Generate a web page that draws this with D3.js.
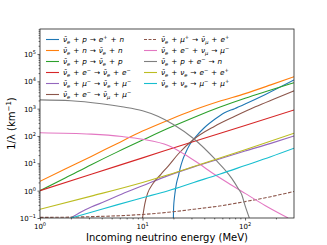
<!DOCTYPE html>
<html>
<head>
<meta charset="utf-8">
<script src="https://cdn.jsdelivr.net/npm/d3@7"></script>
<style>
  body { margin: 0; background: #fff; }
  svg { font-family: "DejaVu Sans", sans-serif; }
  text { white-space: pre; }
</style>
</head>
<body>
<svg id="chart" width="327" height="245"></svg>
<script>
// energies (MeV) and inverse mean free paths (1/km)
var ibdE   = [20, 20.1, 20.4, 20.7, 21.4, 22.4, 23.2, 24.5, 26, 28.8, 32.5, 40, 51, 63, 79, 100, 158, 300]
var ibdV   = [0.1, 0.25, 0.5, 0.8, 1.8, 3.5, 6.3, 12.6, 22, 48, 87, 200, 417, 708, 1000, 1480, 3310, 11200]
var ncnE   = [1, 1.78, 3.16, 5.62, 10, 17.8, 31.6, 56.2, 100, 178, 300]
var ncnV   = [2.2, 6.3, 17.8, 52.5, 151, 380, 891, 1860, 3550, 7410, 14800]
var ncpE   = [1, 1.78, 3.16, 5.62, 10, 17.8, 31.6, 56.2, 100, 178, 300]
var ncpV   = [1.0, 2.95, 8.9, 25.7, 70.8, 191, 479, 1120, 2400, 4790, 8910]
var neeE   = [1, 3.16, 10, 31.6, 100, 300]
var neeV   = [1.0, 4.0, 15.8, 63, 240, 891]
var nmuE   = [2, 2.51, 3.16, 4.27, 6.31, 10, 17.8, 31.6, 56.2, 100, 178, 300]
var nmuV   = [0.1, 0.166, 0.251, 0.398, 0.759, 1.51, 3.55, 7.41, 14.5, 28.2, 53.7, 100]
var emuE   = [10, 10.5, 11.2, 12.6, 15.1, 17.8, 22.4, 31.6, 50.1, 79.4, 126, 200, 300]
var emuV   = [0.1, 0.316, 0.794, 1.78, 3.98, 7.94, 22.4, 75.9, 224, 525, 1170, 2400, 4470]
var mupE   = [1, 3.16, 10, 17.8, 31.6, 56.2, 100, 178, 300]
var mupV   = [0.105, 0.112, 0.135, 0.162, 0.209, 0.275, 0.398, 0.603, 0.933]
var capE   = [1, 3.16, 6.31, 10, 17.8, 25.1, 35.1, 50.1, 74.1, 100, 158, 263]
var capV   = [132, 117, 95.5, 75.9, 44.7, 22.4, 10, 3.98, 1.58, 0.794, 0.282, 0.1]
var pecE   = [1, 2, 3.98, 6.31, 10, 14.1, 20, 31.6, 51, 74.1, 85.1, 92.9, 100, 110]
var pecV   = [2090, 1950, 1510, 1170, 832, 525, 263, 79.4, 14.1, 2.82, 1.26, 0.708, 0.282, 0.1]
var annEE  = [1, 3.16, 10, 17.8, 31.6, 100, 300]
var annEV  = [0.209, 0.631, 2.0, 3.8, 7.59, 31.6, 126]
var annME  = [2, 3.16, 5.62, 10, 17.8, 31.6, 56.2, 100, 178, 300]
var annMV  = [0.1, 0.162, 0.302, 0.55, 1.0, 2.0, 3.98, 8.3, 17.4, 35.5]

var labels = [
    "ν̄_e + p → e^+ + n",
    "ν̄_e + n → ν̄_e + n",
    "ν̄_e + p → ν̄_e + p",
    "ν̄_e + e^- → ν̄_e + e^-",
    "ν̄_e + μ^- → ν̄_e + μ^-",
    "ν̄_e + e^- → ν̄_μ + μ^-",
    "ν̄_e + μ^+ → ν̄_μ + e^+",
    "ν̄_e + e^- + ν_μ → μ^-",
    "ν̄_e + p + e^- → n",
    "ν̄_e + ν_e → e^- + e^+",
    "ν̄_e + ν_e → μ^- + μ^+"
]
var colors = ["#1f77b4", "#ff7f0e", "#2ca02c", "#d62728", "#9467bd", "#8c564b",
              "#8c564b", "#e377c2", "#7f7f7f", "#bcbd22", "#17becf"]
var xTicks = [1, 10, 100]
var yTicks = [0.1, 1, 10, 100, 1000, 1e4, 1e5]

var series = [
    [ibdE, ibdV], [ncnE, ncnV], [ncpE, ncpV], [neeE, neeV], [nmuE, nmuV], [emuE, emuV],
    [mupE, mupV], [capE, capV], [pecE, pecV], [annEE, annEV], [annME, annMV]
].map((s, i) => ({
    label: labels[i],
    color: colors[i],
    dashed: i === 6,
    points: s[0].map((e, j) => ({ e: e, v: s[1][j] }))
}))

var dimensions = {
    width: 327,
    height: 245,
    margin: { top: 29, bottom: 27, left: 40, right: 33 }
}
var plotW = dimensions.width - dimensions.margin.left - dimensions.margin.right
var plotH = dimensions.height - dimensions.margin.top - dimensions.margin.bottom

var svg = d3.select("#chart")

var xScale = d3.scaleLog()
               .domain([1, 300])
               .range([dimensions.margin.left, dimensions.width - dimensions.margin.right])

var yScale = d3.scaleLog()
               .domain([0.1, 8.2e5])
               .range([dimensions.height - dimensions.margin.bottom, dimensions.margin.top])

svg.append("clipPath").attr("id", "plotclip")
   .append("rect")
   .attr("x", dimensions.margin.left)
   .attr("y", dimensions.margin.top)
   .attr("width", plotW)
   .attr("height", plotH)

var line = d3.line()
             .x(d => xScale(d.e))
             .y(d => yScale(d.v))
             .curve(d3.curveMonotoneX)

svg.append("g")
   .attr("clip-path", "url(#plotclip)")
   .selectAll("path")
   .data(series)
   .enter()
   .append("path")
   .attr("d", d => line(d.points))
   .attr("fill", "none")
   .attr("stroke", d => d.color)
   .attr("stroke-width", 1.1)
   .attr("stroke-dasharray", d => d.dashed ? "3.5,1.6" : null)

// minor ticks for a log axis
function minorTicks(domain) {
    var out = []
    for (var k = -2; k <= 6; k++) {
        for (var m = 2; m <= 9; m++) {
            var v = m * Math.pow(10, k)
            if (v > domain[0] && v < domain[1]) out.push(v)
        }
    }
    return out
}

var baseY = dimensions.height - dimensions.margin.bottom

svg.append("g")
   .attr("transform", `translate(0,${baseY})`)
   .call(d3.axisBottom(xScale).tickValues(xTicks).tickSize(2.5).tickFormat(""))
   .call(g => g.select(".domain").remove())
svg.append("g")
   .attr("transform", `translate(0,${baseY})`)
   .call(d3.axisBottom(xScale).tickValues(minorTicks(xScale.domain())).tickSize(1.4).tickFormat(""))
   .call(g => g.select(".domain").remove())
svg.append("g")
   .attr("transform", `translate(${dimensions.margin.left},0)`)
   .call(d3.axisLeft(yScale).tickValues(yTicks).tickSize(2.5).tickFormat(""))
   .call(g => g.select(".domain").remove())
svg.append("g")
   .attr("transform", `translate(${dimensions.margin.left},0)`)
   .call(d3.axisLeft(yScale).tickValues(minorTicks(yScale.domain())).tickSize(1.4).tickFormat(""))
   .call(g => g.select(".domain").remove())
svg.selectAll(".tick line").attr("stroke", "#000").attr("stroke-width", 0.6)

function powLabel(t) {
    var e = Math.round(Math.log10(t))
    return e < 0 ? "−" + Math.abs(e) : String(e)
}

xTicks.forEach(t => {
    var txt = svg.append("text")
                 .attr("x", xScale(t))
                 .attr("y", baseY + 11)
                 .attr("text-anchor", "middle")
                 .style("font-size", "7px")
    txt.append("tspan").text("10")
    txt.append("tspan").attr("dy", -3).style("font-size", "5px").text(powLabel(t))
})

yTicks.forEach(t => {
    var txt = svg.append("text")
                 .attr("x", dimensions.margin.left - 4)
                 .attr("y", yScale(t) + 3)
                 .attr("text-anchor", "end")
                 .style("font-size", "7px")
    txt.append("tspan").text("10")
    txt.append("tspan").attr("dy", -3).style("font-size", "5px").text(powLabel(t))
})

svg.append("rect")
   .attr("x", dimensions.margin.left)
   .attr("y", dimensions.margin.top)
   .attr("width", plotW)
   .attr("height", plotH)
   .attr("fill", "none")
   .attr("stroke", "#222")
   .attr("stroke-width", 0.8)

svg.append("text")
   .attr("x", (dimensions.margin.left + dimensions.width - dimensions.margin.right) / 2)
   .attr("y", 241)
   .attr("text-anchor", "middle")
   .style("font-size", "10px")
   .text("Incoming neutrino energy (MeV)")

var yLab = svg.append("text")
              .attr("transform", `translate(15,${dimensions.margin.top + plotH / 2}) rotate(-90)`)
              .attr("text-anchor", "middle")
              .style("font-size", "10px")
yLab.append("tspan").text("1/λ (km")
yLab.append("tspan").attr("dy", -4).style("font-size", "7px").text("−1")
yLab.append("tspan").attr("dy", 4).text(")")

// mathtext-like label: letters italic, _x subscript, ^x superscript
function writeMath(txt, str, size) {
    var cur = 0
    var i = 0
    var chars = Array.from(str)
    while (i < chars.length) {
        var c = chars[i]
        if (c === "_" || c === "^") {
            var s = chars[i + 1] === "-" ? "−" : chars[i + 1]
            var target = c === "_" ? size * 0.3 : -size * 0.45
            txt.append("tspan").attr("dy", target - cur)
               .style("font-size", (size * 0.7) + "px")
               .style("font-style", s === "+" || s === "−" ? "normal" : "italic")
               .text(s)
            cur = target
            i += 2
            continue
        }
        var word = ""
        var upright = (c === " " || c === "+" || c === "→")
        while (i < chars.length && chars[i] !== "_" && chars[i] !== "^" &&
               (chars[i] === " " || chars[i] === "+" || chars[i] === "→") === upright) {
            word += chars[i]
            i++
        }
        txt.append("tspan").attr("dy", -cur)
           .style("font-size", size + "px")
           .style("font-style", upright ? "normal" : "italic")
           .text(word)
        cur = 0
    }
}

var legend = svg.append("g")
series.forEach((d, i) => {
    var col = i < 6 ? 0 : 1
    var row = i < 6 ? i : i - 6
    var lx = col === 0 ? 46 : 144
    var ly = 39.5 + row * 11
    legend.append("line")
          .attr("x1", lx).attr("x2", lx + 13)
          .attr("y1", ly).attr("y2", ly)
          .attr("stroke", d.color)
          .attr("stroke-width", 1.1)
          .attr("stroke-dasharray", d.dashed ? "3,1.5" : null)
    var txt = legend.append("text")
                    .attr("x", lx + 17)
                    .attr("y", ly + 2.5)
                    .style("word-spacing", "0.6px")
    writeMath(txt, d.label, 7.3)
})
</script>
</body>
</html>
